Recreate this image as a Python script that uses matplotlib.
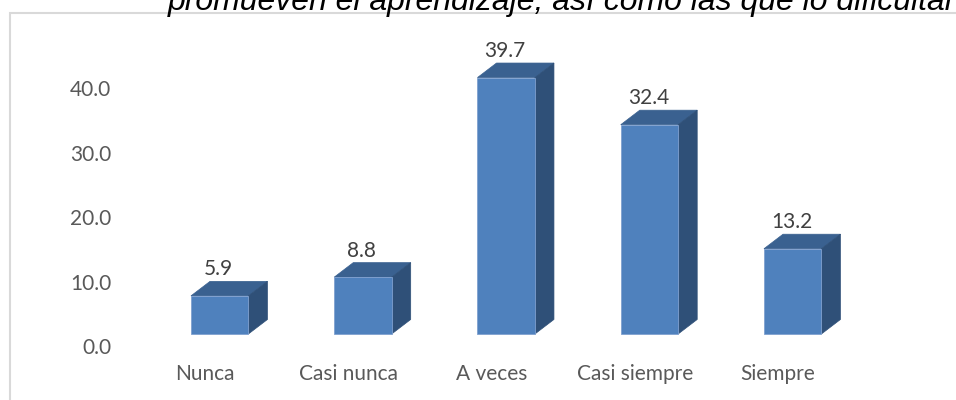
import matplotlib.pyplot as plt
from matplotlib.patches import Polygon, Rectangle

categories = ['Nunca', 'Casi nunca', 'A veces', 'Casi siempre', 'Siempre']
values = [5.9, 8.8, 39.7, 32.4, 13.2]
y_ticks = [0, 10, 20, 30, 40]
title = 'promueven el aprendizaje, así como las que lo dificultan'

front_col = '#4F81BD'
top_col = '#3A6190'
side_col = '#2F5078'

# 3d look: front face offset/width and depth, in data units
x_off = -0.098
bar_w = 0.401
dx = 0.133
dy = 2.25
tick_shift = 1.93

fig = plt.figure(figsize=(9.56, 4.0), dpi=100)
ax = fig.add_axes([118 / 956, 40 / 400, (956 - 118) / 956, 346 / 400])

for i, v in enumerate(values):
    x0 = i + x_off
    x1 = x0 + bar_w
    ax.bar(x0, v, width=bar_w, align='edge', color=front_col,
           edgecolor='#7FA0CF', linewidth=0.6, zorder=3)
    ax.add_patch(Polygon([(x0, v), (x1, v), (x1 + dx, v + dy), (x0 + dx, v + dy)],
                         closed=True, facecolor=top_col, edgecolor=top_col,
                         linewidth=0.5, zorder=2))
    ax.add_patch(Polygon([(x1, 0), (x1, v), (x1 + dx, v + dy), (x1 + dx, dy)],
                         closed=True, facecolor=side_col, edgecolor=side_col,
                         linewidth=0.5, zorder=2))
    ax.text(i + 0.095, v + dy + 1.85, f'{v:.1f}', ha='center', va='center',
            fontsize=15, color='#404040', family='Lato')

ax.set_xlim(-0.6073, 5.2426)
ax.set_ylim(-4.025, 49.54)
ax.set_xticks(range(len(categories)), labels=categories)
ax.set_yticks([t - tick_shift for t in y_ticks], labels=[f'{t:.1f}' for t in y_ticks])
ax.tick_params(length=0, labelsize=15, labelcolor='#595959')
ax.tick_params(axis='y', pad=5)
ax.tick_params(axis='x', pad=3)
for lab in ax.get_xticklabels() + ax.get_yticklabels():
    lab.set_family('Lato')
for s in ax.spines.values():
    s.set_visible(False)

fig.patches.append(Rectangle((9.5 / 956, -0.1), 1.2, 1 - 13 / 400 + 0.1,
                             transform=fig.transFigure, fill=False,
                             edgecolor='#D9D9D9', linewidth=1.5))
fig.text(168 / 956, 1 - 10 / 400, title, fontsize=23, style='italic',
         family='Liberation Sans', va='baseline', ha='left', color='black')

fig.savefig('out.png', dpi=100)
